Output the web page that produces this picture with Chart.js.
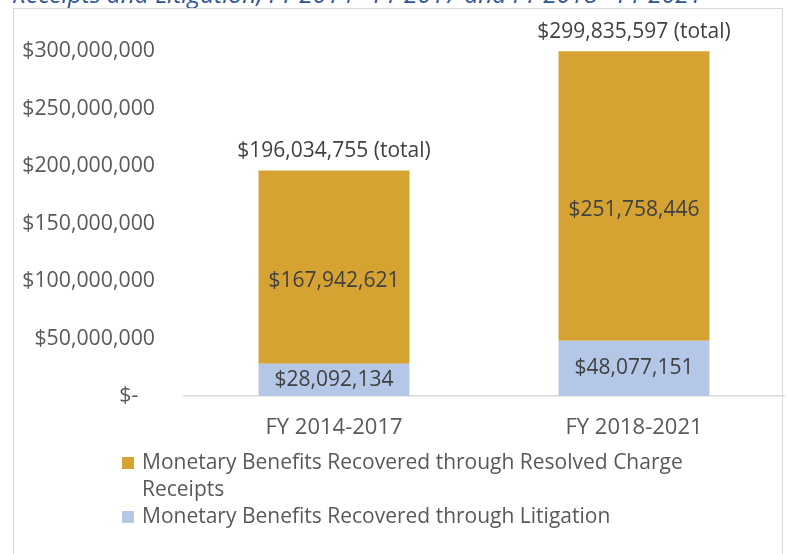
<!DOCTYPE html>
<html>
<head>
<meta charset="utf-8">
<script src="https://cdn.jsdelivr.net/npm/chart.js@4.4.1/dist/chart.umd.min.js"></script>
<style>
  html, body { margin: 0; padding: 0; background: #fff; overflow: hidden; }
  body { width: 788px; height: 554px; position: relative; font-family: 'Open Sans', sans-serif; }
  #title {
    position: absolute; left: 12px; top: -23px; white-space: nowrap;
    font-style: italic; font-size: 24.5px; color: #2f5597;
  }
  #frame {
    position: absolute; left: 13px; top: 8px; width: 770px; height: 560px;
    border: 1px solid #d9d9d9; box-sizing: border-box;
  }
  #wrap { position: absolute; left: 0; top: 0; width: 788px; height: 450px; }
  #legend { position: absolute; left: 122px; top: 448px; width: 600px; color: #595959; font-size: 21px; line-height: 27px; }
  .item { display: flex; align-items: flex-start; }
  .box { width: 12px; height: 12px; margin: 9px 8px 0 0; flex: none; }
</style>
</head>
<body>
<div id="title">Receipts and Litigation, FY 2014 - FY 2017 and FY 2018 - FY 2021</div>
<div id="frame"></div>
<div id="wrap"><canvas id="chart"></canvas></div>
<div id="legend"></div>
<script>
'use strict';

/* ---- Data ---- */
const categories = ['FY 2014-2017', 'FY 2018-2021'];
const litigation = [28092134, 48077151];
const resolved   = [167942621, 251758446];
const totals     = [196034755, 299835597];
const yTicks     = [0, 50000000, 100000000, 150000000, 200000000, 250000000, 300000000];

const GOLD = '#d6a333';
const BLUE = '#b4c7e7';
const TEXT = '#595959';
const LABEL = '#404040';

function money(v) {
  return '$' + v.toLocaleString('en-US');
}

/* Segment values + totals drawn on top of the bars */
const valueLabels = {
  id: 'valueLabels',
  afterDatasetsDraw(chart) {
    const { ctx } = chart;
    ctx.save();
    ctx.font = '21px "Open Sans"';
    ctx.fillStyle = LABEL;
    ctx.textAlign = 'center';
    ctx.textBaseline = 'middle';
    chart.data.datasets.forEach((ds, di) => {
      const shift = di === 1 ? 14 : 0;  // gold labels sit a little below centre
      chart.getDatasetMeta(di).data.forEach((bar, i) => {
        ctx.fillText(money(ds.data[i]), bar.x, (bar.y + bar.base) / 2 + shift);
      });
    });
    const top = chart.getDatasetMeta(chart.data.datasets.length - 1).data;
    ctx.textBaseline = 'bottom';
    top.forEach((bar, i) => {
      ctx.fillText(money(totals[i]) + ' (total)', bar.x, bar.y - 9);
    });
    ctx.restore();
  }
};

const datasets = [
  { label: 'Monetary Benefits Recovered through Litigation', data: litigation, backgroundColor: BLUE },
  { label: 'Monetary Benefits Recovered through Resolved Charge Receipts', data: resolved, backgroundColor: GOLD },
];

new Chart(document.getElementById('chart'), {
  type: 'bar',
  data: { labels: categories, datasets },
  options: {
    responsive: true,
    maintainAspectRatio: false,
    animation: false,
    layout: { padding: { top: 51, right: 4, left: 0, bottom: 0 } },
    datasets: { bar: { categoryPercentage: 1, barPercentage: 0.503 } },
    plugins: { legend: { display: false }, tooltip: { enabled: false } },
    scales: {
      x: {
        stacked: true,
        grid: { display: false, drawTicks: false },
        border: { display: true, color: '#d9d9d9', width: 1.5 },
        ticks: { color: TEXT, font: { family: 'Open Sans', size: 22 }, padding: 19 },
        afterFit: s => { s.height = 54; },
      },
      y: {
        stacked: true,
        min: 0,
        max: 300000000,
        afterBuildTicks: s => { s.ticks = yTicks.map(v => ({ value: v })); },
        grid: { display: false, drawTicks: false },
        border: { display: false },
        ticks: {
          color: TEXT,
          font: { family: 'Open Sans', size: 21.3 },
          padding: 29,
          callback: v => v === 0 ? '$-   ' : money(v),
        },
        afterFit: s => { s.width = 184; },
      },
    },
  },
  plugins: [valueLabels],
});

/* Legend in reverse stack order, with wrapping text */
document.getElementById('legend').innerHTML = datasets.slice().reverse().map(ds =>
  `<div class="item"><span class="box" style="background:${ds.backgroundColor}"></span><span>${ds.label}</span></div>`
).join('');
</script>
</body>
</html>
